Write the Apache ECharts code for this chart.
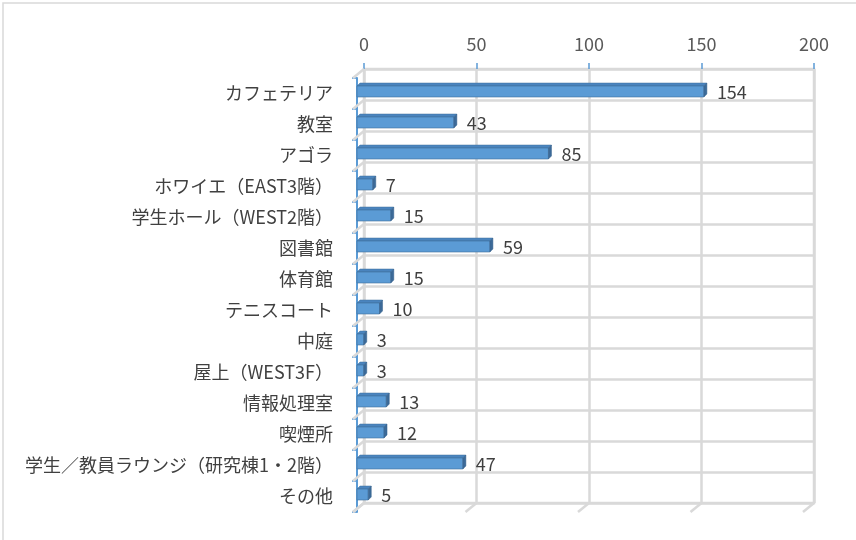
<!DOCTYPE html>
<html>
<head>
<meta charset="utf-8">
<script src="https://cdn.jsdelivr.net/npm/echarts@6/dist/echarts.min.js"></script>
<style>
  html, body { margin: 0; padding: 0; background: #fff; }
  #chart { width: 856px; height: 540px; }
</style>
</head>
<body>
<div id="chart"></div>
<script>
// カテゴリと値
var categories = [
  'カフェテリア', '教室', 'アゴラ', 'ホワイエ（EAST3階）', '学生ホール（WEST2階）',
  '図書館', '体育館', 'テニスコート', '中庭', '屋上（WEST3F）',
  '情報処理室', '喫煙所', '学生／教員ラウンジ（研究棟1・2階）', 'その他'
];
var counts = [154, 43, 85, 7, 15, 59, 15, 10, 3, 3, 13, 12, 47, 5];
var xTicks = [0, 50, 100, 150, 200];

var FONT = '"Noto Sans CJK JP", "Noto Sans", sans-serif';
var GRID_GRAY = '#D9D9D9';
var AXIS_BLUE = '#5B9BD5';

var chart = echarts.init(document.getElementById('chart'));

var barData = counts.map(function (v, i) { return [v, i]; });
var catIdx = categories.map(function (c, i) { return [0, i]; });
var tickData = xTicks.map(function (v) { return [v, categories.length - 1]; });

// 3D風の棒
function renderBar(params, api) {
  var val = api.value(0);
  var idx = api.value(1);
  var p0 = api.coord([0, idx]);
  var p1 = api.coord([val, idx]);
  var yMid = p0[1] - 2;
  var h = 11, d = 3;
  var x0 = p0[0], x1 = p1[0];
  var yT = yMid - h / 2, yB = yMid + h / 2;
  return {
    type: 'group',
    children: [
      { type: 'polygon', shape: { points: [[x0, yT], [x1, yT], [x1 + d, yT - d], [x0 + d, yT - d]] },
        style: { fill: '#4A84BE', stroke: '#41719C', lineWidth: 0.5 } },
      { type: 'rect', shape: { x: x0, y: yT, width: x1 - x0, height: h },
        style: { fill: '#5B9BD5', stroke: '#41719C', lineWidth: 0.6 } },
      { type: 'polygon', shape: { points: [[x1, yT], [x1 + d, yT - d], [x1 + d, yB - d], [x1, yB]] },
        style: { fill: '#3C6A98', stroke: '#34608C', lineWidth: 0.5 } },
      { type: 'text', style: { text: String(val), x: x1 + 13, y: yMid + 1, fill: '#404040',
        fontSize: 18, fontFamily: FONT, verticalAlign: 'middle', align: 'left' } }
    ]
  };
}

// 床の斜線（左側）
function renderLeftFloor(params, api) {
  var idx = api.value(1);
  var c = api.coord([0, idx]);
  var band = api.size([0, 1])[1];
  var lines = [];
  var ys = [c[1] - band / 2];
  if (idx === categories.length - 1) ys.push(c[1] + band / 2);
  ys.forEach(function (y) {
    lines.push({ type: 'line', shape: { x1: c[0] - 11, y1: y + 9, x2: c[0], y2: y },
      style: { stroke: GRID_GRAY, lineWidth: 2.5 } });
  });
  return { type: 'group', children: lines };
}

// 床の斜線（下側）
function renderBottomFloor(params, api) {
  var c = api.coord([api.value(0), api.value(1)]);
  var band = api.size([0, 1])[1];
  var y = c[1] + band / 2;
  return { type: 'line', shape: { x1: c[0] - 11, y1: y + 9, x2: c[0], y2: y },
    style: { stroke: GRID_GRAY, lineWidth: 2.5 } };
}

var option = {
  backgroundColor: '#fff',
  animation: false,
  graphic: [
    { type: 'rect', shape: { x: 3, y: 3, width: 900, height: 600 },
      style: { fill: 'none', stroke: '#D9D9D9', lineWidth: 1.5 }, z: 0 }
  ],
  grid: [
    { left: 364, top: 69, right: 42, bottom: 37, show: true, borderColor: GRID_GRAY, borderWidth: 2.5, backgroundColor: 'transparent' },
    { left: 357, top: 78, right: 48.5, bottom: 28 }
  ],
  xAxis: [
    {
      gridIndex: 0, type: 'value', position: 'top', min: 0, max: 200, interval: 50,
      axisLine: { show: false },
      axisTick: { show: true, length: 6, lineStyle: { color: AXIS_BLUE, width: 1.5 } },
      axisLabel: { fontSize: 18, color: '#595959', fontFamily: FONT, margin: 16 },
      splitLine: { show: true, lineStyle: { color: GRID_GRAY, width: 2.5 } }
    },
    {
      gridIndex: 1, type: 'value', min: 0, max: 200, interval: 50, show: false
    }
  ],
  yAxis: [
    {
      gridIndex: 0, type: 'category', inverse: true, data: categories,
      axisLine: { show: false }, axisTick: { show: false }, axisLabel: { show: false },
      splitLine: { show: true, lineStyle: { color: GRID_GRAY, width: 2.5 } }
    },
    {
      gridIndex: 1, type: 'category', inverse: true, data: categories, offset: 5,
      axisLine: { show: true, lineStyle: { color: AXIS_BLUE, width: 2 } },
      axisTick: { show: true, length: 5, lineStyle: { color: AXIS_BLUE, width: 1.5 } },
      axisLabel: { fontSize: 18, color: '#404040', fontFamily: FONT, margin: 19 },
      splitLine: { show: false }
    }
  ],
  series: [
    { type: 'custom', xAxisIndex: 0, yAxisIndex: 0, renderItem: renderLeftFloor, data: catIdx, z: 1, silent: true },
    { type: 'custom', xAxisIndex: 0, yAxisIndex: 0, renderItem: renderBottomFloor, data: tickData, z: 1, silent: true },
    { type: 'custom', xAxisIndex: 1, yAxisIndex: 1, renderItem: renderBar, data: barData, z: 5 }
  ]
};

chart.setOption(option);
</script>
</body>
</html>
